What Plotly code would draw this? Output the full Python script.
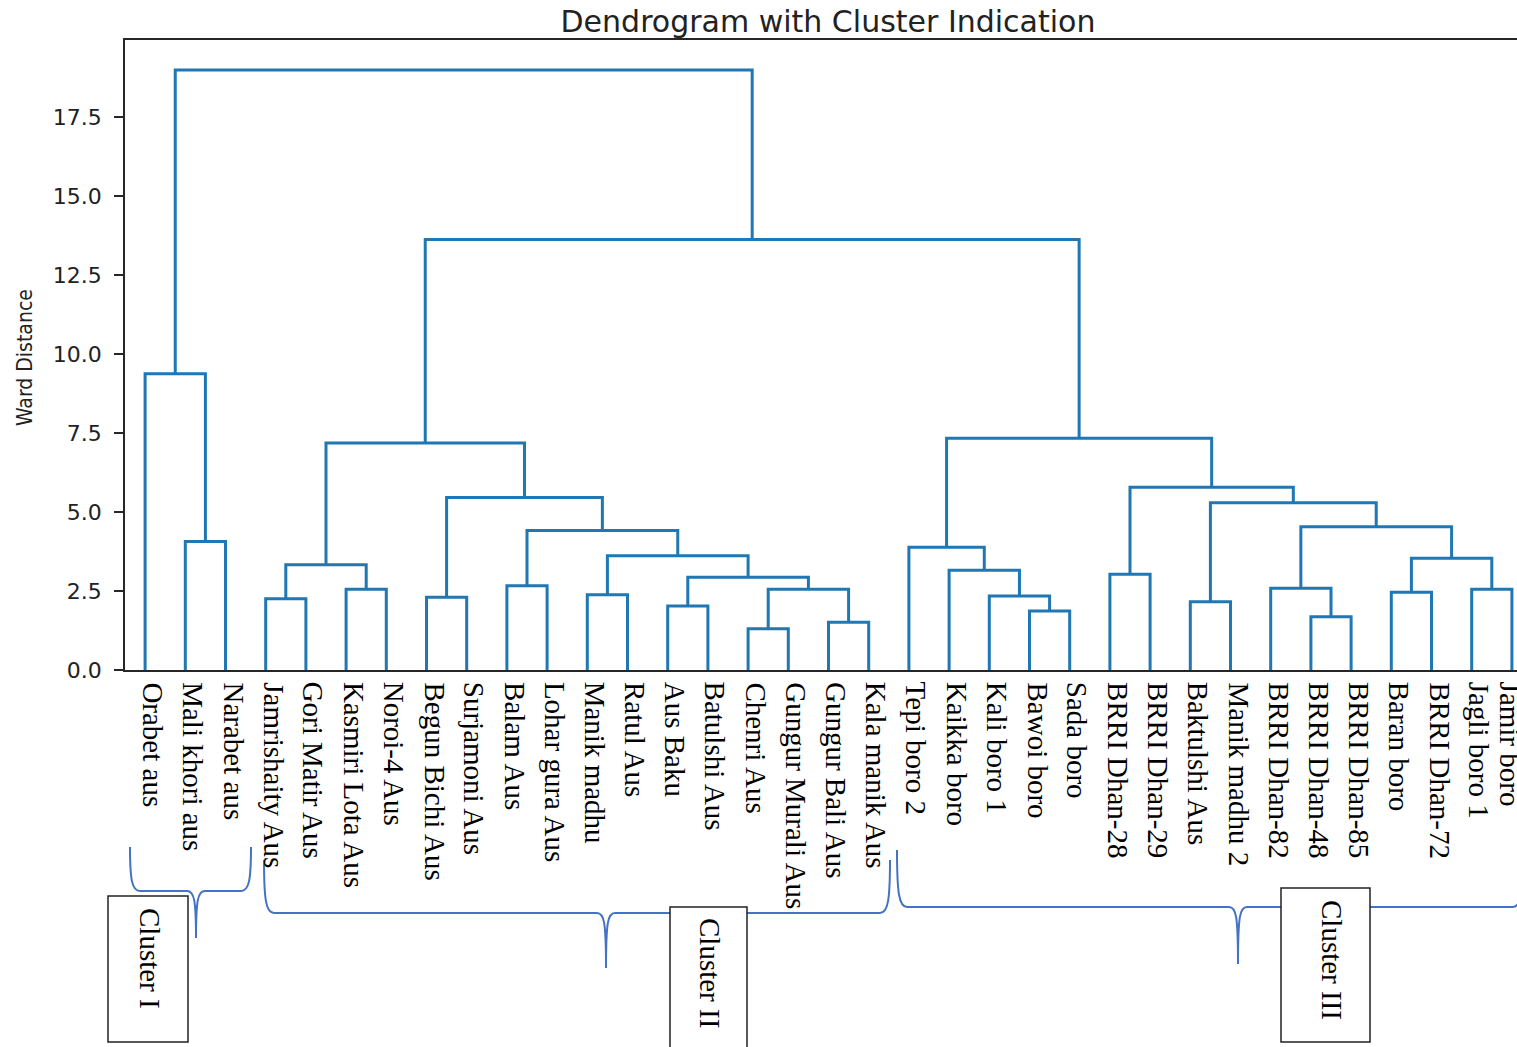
import plotly.graph_objects as go

# ---- data -----------------------------------------------------------------
leaf_labels = [
    "Orabet aus", "Mali khori aus", "Narabet aus", "Jamrishaity Aus",
    "Gori Matir Aus", "Kasmiri Lota Aus", "Noroi-4 Aus", "Begun Bichi Aus",
    "Surjamoni Aus", "Balam Aus", "Lohar gura Aus", "Manik madhu",
    "Ratul Aus", "Aus Baku", "Batulshi Aus", "Chenri Aus",
    "Gungur Murali Aus", "Gungur Bali Aus", "Kala manik Aus", "Tepi boro 2",
    "Kaikka boro", "Kali boro 1", "Bawoi boro", "Sada boro",
    "BRRI Dhan-28", "BRRI Dhan-29", "Baktulshi Aus", "Manik madhu 2",
    "BRRI Dhan-82", "BRRI Dhan-48", "BRRI Dhan-85", "Baran boro",
    "BRRI Dhan-72", "Jagli boro 1", "Jamir boro",
]

# Linkage (scipy style): ids < n_leaves are leaves, id n_leaves + k is merge k.
merge_left = [15, 17, 29, 22, 13, 26, 3, 7, 21, 11, 31, 5, 33, 35, 28, 9, 39,
              24, 20, 41, 45, 44, 19, 1, 50, 49, 40, 42, 52, 54, 57, 0, 64, 66]
merge_right = [16, 18, 30, 23, 14, 27, 4, 8, 38, 12, 32, 6, 34, 36, 37, 10, 48,
               25, 43, 46, 47, 51, 53, 2, 56, 55, 60, 59, 61, 62, 63, 58, 65, 67]
merge_height = [1.31, 1.51, 1.69, 1.87, 2.03, 2.16, 2.26, 2.30, 2.34, 2.38,
                2.46, 2.56, 2.56, 2.56, 2.59, 2.67, 2.94, 3.03, 3.16, 3.33,
                3.54, 3.62, 3.89, 4.07, 4.42, 4.54, 5.30, 5.46, 5.79, 7.19,
                7.34, 9.38, 13.63, 19.00]

cluster_names = ["Cluster I", "Cluster II", "Cluster III"]

y_tick_vals = [0.0, 2.5, 5.0, 7.5, 10.0, 12.5, 15.0, 17.5]

# ---- dendrogram geometry ---------------------------------------------------
n_leaves = len(leaf_labels)
leaf_x = [5 + 10 * i for i in range(n_leaves)]
node_x = list(leaf_x)
node_h = [0.0] * n_leaves
seg_x, seg_y = [], []
for a, b, h in zip(merge_left, merge_right, merge_height):
    xa, xb = node_x[a], node_x[b]
    seg_x += [xa, xa, xb, xb, None]
    seg_y += [node_h[a], h, h, node_h[b], None]
    node_x.append((xa + xb) / 2)
    node_h.append(h)

fig = go.Figure()
fig.add_trace(go.Scatter(
    x=seg_x, y=seg_y, mode="lines",
    line=dict(color="#1f77b4", width=3),
    hoverinfo="skip", showlegend=False,
))

# ---- page geometry (pixels) ------------------------------------------------
W, H = 1517, 1047
L, R, T, B = 125, 0, 40, 377
PW, PH = W - L - R, H - T - B
px_per_unit = 4.02                     # axis runs off the right edge of the page
x_max = PW / px_per_unit
y_max = max(merge_height) * 1.05


def px(xp):
    return (xp - L) / PW


def py(yp):
    return (H - B - yp) / PH


def brace_path(x0, x1, xt, ytop, yh, ytip):
    pts = [
        ("M", [(x0, ytop)]),
        ("C", [(x0, ytop + 0.75 * (yh - ytop)), (x0 + 2, yh), (x0 + 10, yh)]),
        ("L", [(xt - 9, yh)]),
        ("C", [(xt - 2, yh), (xt, yh + 8), (xt, ytip)]),
        ("C", [(xt, yh + 8), (xt + 2, yh), (xt + 9, yh)]),
        ("L", [(x1 - 10, yh)]),
        ("C", [(x1 - 2, yh), (x1, ytop + 0.75 * (yh - ytop)), (x1, ytop)]),
    ]
    out = []
    for cmd, ps in pts:
        out.append(cmd + " ".join(f"{px(a):.5f},{py(b):.5f}" for a, b in ps))
    return " ".join(out)


brace_color = "#4472C4"
braces = [
    (130, 251, 196, 847, 891, 938),
    (264, 890, 606, 860, 913, 968),
    (897, 1523, 1238, 850, 907, 964),
]
shapes = []
for br in braces:
    shapes.append(dict(type="path", xref="paper", yref="paper",
                       path=brace_path(*br),
                       line=dict(color=brace_color, width=2)))

# boxes around the cluster names
boxes = [(108, 896, 188, 1042), (670, 907, 747, 1070), (1281, 888, 1370, 1042)]
for x0, y0, x1, y1 in boxes:
    shapes.append(dict(type="rect", xref="paper", yref="paper",
                       x0=px(x0), x1=px(x1), y0=py(y1), y1=py(y0),
                       line=dict(color="#222222", width=1.5),
                       fillcolor="white", layer="above"))

serif = "Liberation Serif, Times New Roman, serif"
annotations = []

# leaf labels, written top-to-bottom under each leaf; the last one is nudged
# left so it stays on the page
for i, (xv, lab) in enumerate(zip(leaf_x, leaf_labels)):
    annotations.append(dict(
        text=lab, x=xv, y=0, xref="x", yref="paper",
        showarrow=False, textangle=90, xanchor="center", yanchor="top",
        xshift=8 if i < n_leaves - 1 else -1, yshift=-10,
        font=dict(family=serif, size=29, color="black"),
    ))

name_pos = [(150, 958), (710, 973), (1332, 960)]
for name, (xc, yc) in zip(cluster_names, name_pos):
    annotations.append(dict(
        text=name, x=px(xc), y=py(yc), xref="paper", yref="paper",
        showarrow=False, textangle=90, xanchor="center", yanchor="middle",
        font=dict(family=serif, size=29, color="black"),
    ))

# y axis title
annotations.append(dict(
    text="Ward Distance", x=px(25), y=py(358), xref="paper", yref="paper",
    showarrow=False, textangle=-90, xanchor="center", yanchor="middle",
    font=dict(family="DejaVu Sans Condensed, Liberation Sans Narrow, Roboto, sans-serif",
              size=21, color="#222222"),
))

fig.update_layout(
    width=W, height=H,
    margin=dict(l=L, r=R, t=T, b=B, pad=0, autoexpand=False),
    paper_bgcolor="white", plot_bgcolor="white",
    title=dict(text="Dendrogram with Cluster Indication",
               x=px(828), xref="paper", xanchor="center",
               y=1 - 21 / H, yref="container", yanchor="middle",
               font=dict(family="DejaVu Sans", size=30, color="#222222")),
    shapes=shapes,
    annotations=annotations,
    hovermode=False,
    xaxis=dict(
        range=[0, x_max], showgrid=False, zeroline=False, automargin=False,
        showline=True, mirror=True, linecolor="#262626", linewidth=1.5,
        tickmode="array", tickvals=leaf_x, ticks="", showticklabels=False,
    ),
    yaxis=dict(
        range=[0, y_max], showgrid=False, zeroline=False, automargin=False,
        showline=True, linecolor="#262626", linewidth=1.5,
        tickmode="array", tickvals=y_tick_vals,
        ticktext=[f"{v:.1f}" for v in y_tick_vals],
        ticks="outside", ticklen=9, tickwidth=1.5, tickcolor="#262626",
        ticklabelstandoff=8,
        tickfont=dict(family="DejaVu Sans", size=22, color="#222222"),
    ),
)

fig.write_html("out.html")
